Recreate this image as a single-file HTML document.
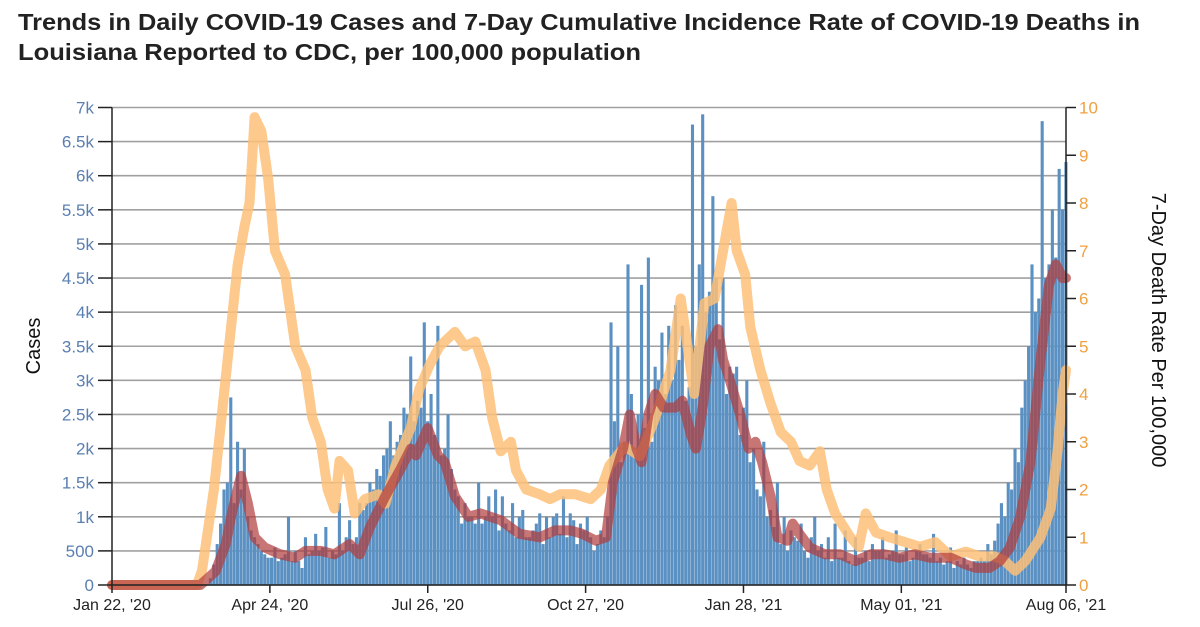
<!DOCTYPE html>
<html><head><meta charset="utf-8"><style>
body{margin:0;background:#fff;}
svg{display:block;font-family:"Liberation Sans",sans-serif;}
</style></head><body>
<svg id="chart" width="1200" height="627">
<text x="18" y="30" font-size="23" font-weight="bold" fill="#222" textLength="1122" lengthAdjust="spacingAndGlyphs">Trends in Daily COVID-19 Cases and 7-Day Cumulative Incidence Rate of COVID-19 Deaths in</text>
<text x="18" y="60" font-size="23" font-weight="bold" fill="#222" textLength="623" lengthAdjust="spacingAndGlyphs">Louisiana Reported to CDC, per 100,000 population</text>
<text transform="translate(40,346) rotate(-90)" text-anchor="middle" font-size="20" fill="#111">Cases</text>
<text transform="translate(1152,330) rotate(90)" text-anchor="middle" font-size="20" fill="#111">7-Day Death Rate Per 100,000</text>
<g id="grid"></g><g id="bars"></g><g id="lines"></g><g id="axes"></g>
</svg>
<script>
const cases = [0,0,0,0,0,0,0,0,0,0,0,0,0,0,0,0,0,0,0,0,0,0,0,0,0,0,0,0,0,
100,300,600,900,1400,1500,2750,1200,2100,1400,2000,1000,800,700,600,500,450,400,400,550,350,400,450,1000,350,500,350,250,700,450,500,750,500,550,850,400,500,450,1200,500,700,950,600,700,1200,1100,1200,1500,1400,1700,1600,1900,2000,2400,1900,2100,2200,2600,2500,3350,2400,2700,2600,3850,2400,2800,2200,3800,1900,2000,2500,1700,1400,1300,900,1200,1000,1000,900,1500,900,1000,1300,1000,1400,800,1300,900,800,1200,700,1000,1100,700,700,800,900,1050,600,1000,700,1000,1050,750,1300,700,1050,950,600,900,800,1000,700,500,600,800,700,1000,3850,2400,3500,1800,2100,4700,2800,1900,2500,4400,2300,4800,2100,3200,3000,3700,2800,3800,3000,4100,3300,3800,2700,2900,6750,3500,4700,6900,4000,4300,5700,4500,3600,4500,2800,3200,3100,3200,2200,2600,3000,1800,2000,1400,1300,2100,1000,1100,850,1500,600,1000,500,800,700,650,900,500,400,700,1000,500,600,400,700,350,900,400,400,800,350,300,700,400,400,500,350,600,500,500,700,400,450,500,800,450,450,550,350,400,500,600,450,450,400,750,350,400,300,350,550,250,350,300,400,300,250,350,350,400,350,600,450,650,900,1200,1000,1500,1400,2000,1800,2600,3000,3500,4700,4000,4200,6800,4500,4700,5500,4800,6100,5500,6200];
const caseStepDays = 2;
const avgDays = [0,52,61,67,71,76,80,84,90,99,108,114,123,131,140,146,152,161,170,176,179,186,192,196,202,210,217,229,240,252,261,270,277,285,291,295,301,305,309,312,316,320,325,332,336,341,344,348,352,357,360,364,370,375,379,383,388,392,398,401,405,411,420,429,438,447,455,464,473,482,494,503,509,517,523,529,535,541,547,552,556,560,562];
const avgCases = [0,0,200,600,1100,1600,1200,700,550,450,400,500,500,450,600,450,850,1300,1700,2000,1900,2300,1900,1800,1300,1000,1050,950,750,700,800,800,750,650,700,1500,2000,2500,2000,1800,2500,2800,2600,2600,2700,2200,2000,2600,3500,3750,3300,3000,2500,2000,2100,1800,1300,700,650,900,750,550,450,450,350,450,450,400,450,400,400,300,250,250,350,550,1000,1800,3300,4400,4700,4500,4500];
const deathDays = [0,50,53,60,66,74,78,81,84,88,92,96,102,108,114,118,123,127,131,134,139,143,149,157,161,167,176,181,187,193,202,208,214,220,224,229,235,238,244,252,258,264,273,282,288,293,302,311,320,329,335,339,343,349,355,359,365,368,373,376,382,388,394,400,405,411,417,421,426,435,440,444,450,458,467,476,485,494,503,511,520,526,532,538,547,553,557,560,562];
const deathRate = [0,0,0.3,2,4,6.7,7.5,8,9.8,9.5,8.5,7,6.5,5,4.5,3.5,3,2,1.6,2.6,2.4,1.5,1.8,1.9,1.7,2.5,3.3,4.1,4.6,5.0,5.3,5.0,5.1,4.5,3.5,2.8,3.0,2.4,2.0,1.9,1.8,1.9,1.9,1.8,2.0,2.5,2.9,2.7,3.5,4.5,6.0,5.0,4.0,5.9,6.0,6.8,8.0,7.0,6.5,5.4,4.5,3.8,3.2,3.0,2.6,2.5,2.8,2.0,1.5,1.0,0.8,1.5,1.1,1.0,0.9,0.8,0.9,0.6,0.7,0.6,0.6,0.5,0.3,0.5,1.0,1.6,2.8,4.0,4.5];
const leftTicks = ["0","500","1k","1.5k","2k","2.5k","3k","3.5k","4k","4.5k","5k","5.5k","6k","6.5k","7k"];
const rightTicks = ["0","1","2","3","4","5","6","7","8","9","10"];
const xLabels = ["Jan 22, '20","Apr 24, '20","Jul 26, '20","Oct 27, '20","Jan 28, '21","May 01, '21","Aug 06, '21"];
const xLabelDays = [0,93,186,279,372,465,562];

const NS="http://www.w3.org/2000/svg";
const X0=112, X1=1066, Y0=585, Y1=107.5, TOTAL=562;
const x = d => X0 + d*(X1-X0)/TOTAL;
const yL = v => Y0 - v*(Y0-Y1)/7000;
const yR = v => Y0 - v*(Y0-Y1)/10;
function mk(tag, attrs, parent){const e=document.createElementNS(NS,tag);for(const k in attrs)e.setAttribute(k,attrs[k]);parent.appendChild(e);return e;}
const grid=document.getElementById('grid'), bars=document.getElementById('bars'), lines=document.getElementById('lines'), axes=document.getElementById('axes');

leftTicks.forEach((t,i)=>{
  const yy=yL(i*500);
  const g=mk('line',{x1:X0,x2:X1,y1:yy,y2:yy,stroke:'#a0a0a0','stroke-width':1.6},grid);
  
  
  const tk=mk('line',{x1:X0-14,x2:X0,y1:yy,y2:yy,stroke:'#222','stroke-width':1.5},axes);
  
  
  const tx=mk('text',{x:X0-18,y:yy+6,'text-anchor':'end','font-size':17,fill:'#5a7fb0'},axes);
  tx.textContent=t;
  
  
});
rightTicks.forEach((t,i)=>{
  const yy=yR(i);
  const tk=mk('line',{x1:X1,x2:X1+10,y1:yy,y2:yy,stroke:'#222','stroke-width':1.5},axes);
  
  
  const tx=mk('text',{x:X1+13,y:yy+6,'font-size':17,fill:'#f0a040'},axes);
  tx.textContent=t;
  
  
});
cases.forEach((v,i)=>{
  if(v<=0) return;
  const d=i*caseStepDays;
  const r=mk('rect',{x:x(d)-1.6,y:yL(v),width:3.1,height:Y0-yL(v),fill:'#5b90c2'},bars);
  
  
});
function path(days,vals,yf){return days.map((d,i)=>(i?'L':'M')+x(d).toFixed(1)+','+yf(vals[i]).toFixed(1)).join(' ');}
const dl=mk('path',{d:path(deathDays,deathRate,yR),fill:'none',stroke:'#fdbf78','stroke-opacity':0.85,'stroke-width':10,'stroke-linejoin':'round','stroke-linecap':'round'},lines);


const al=mk('path',{d:path(avgDays,avgCases,yL),fill:'none',stroke:'#b03a3a','stroke-opacity':0.7,'stroke-width':10,'stroke-linejoin':'round','stroke-linecap':'round'},lines);



const la=mk('line',{x1:X0,x2:X0,y1:Y1,y2:Y0,stroke:'#222','stroke-width':1.5},axes);


const ra=mk('line',{x1:X1,x2:X1,y1:Y1,y2:Y0,stroke:'#222','stroke-width':1.5},axes);


const ba=mk('line',{x1:X0,x2:X1,y1:Y0,y2:Y0,stroke:'#222','stroke-width':1.5},axes);


xLabels.forEach((t,i)=>{
  const xx=x(xLabelDays[i]);
  const tk=mk('line',{x1:xx,x2:xx,y1:Y0,y2:Y0+8,stroke:'#222','stroke-width':1.5},axes);
  
  
  const tx=mk('text',{x:xx,y:Y0+25,'text-anchor':'middle','font-size':16,fill:'#222'},axes);
  tx.textContent=t;
  
  
});
</script>
</body></html>
